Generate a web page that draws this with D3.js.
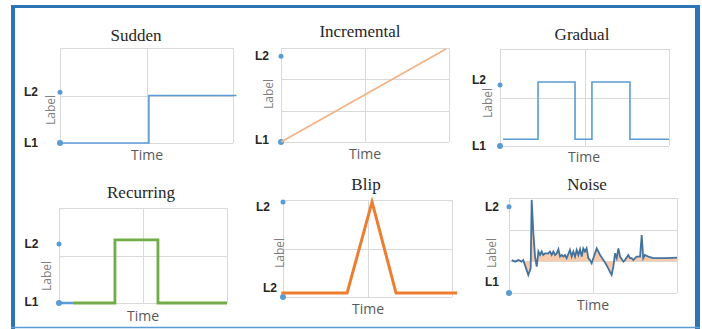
<!DOCTYPE html>
<html><head><meta charset="utf-8">
<script src="https://cdn.jsdelivr.net/npm/d3@7"></script>
<style>
html,body{margin:0;padding:0;background:#fff;}
svg{display:block;}
.title{font-family:"Liberation Serif","Times New Roman",serif;font-size:17px;fill:#262626;}
.time{font-family:"Open Sans",sans-serif;font-size:14px;fill:#595959;}
.ylab{font-family:"Open Sans",sans-serif;font-size:12px;fill:#7f7f7f;}
.lvl{font-family:"Liberation Sans Narrow","Liberation Sans",Arial,sans-serif;font-weight:bold;font-size:12px;fill:#262626;}
</style>
</head><body>
<script>
// ---------- DATA ----------
const titles = ["Sudden", "Incremental", "Gradual", "Recurring", "Blip", "Noise"];
const axisTitleX = "Time";
const axisTitleY = "Label";
const levelNames = [["L1", "L2"], ["L1", "L2"], ["L1", "L2"], ["L1", "L2"], ["L2", "L2"], ["L1", "L2"]];
// level marker values (low, high) per panel
const levelMarks = [[0, 1.07], [0, 2.74], [0, 1.26], [0, 1.24], [0, 1.96], [0, 2.72]];

const suddenT = [0, 51.4, 51.4, 102];
const suddenV = [0, 0, 1, 1];

const incrementalT = [0, 98.2];
const incrementalV = [0, 2.97];

const gradualT = [1.8, 22.5, 22.5, 44.4, 44.4, 54.4, 54.4, 76.9, 76.9, 100];
const gradualV = [0.14, 0.14, 1.32, 1.32, 0.14, 0.14, 1.32, 1.32, 0.14, 0.14];

const recurringStubT = [0, 8.3];
const recurringStubV = [0, 0];
const recurringT = [8.3, 33.3, 33.3, 58.9, 58.9, 100];
const recurringV = [0, 0, 1.33, 1.33, 0, 0];

const blipT = [-1, 37.9, 52.7, 66.9, 103];
const blipV = [0.08, 0.08, 1.96, 0.08, 0.08];

const noiseT = [1.6, 3.6, 5.6, 7.5, 8.5, 9.5, 11.5, 12.9, 13.5, 14.5, 15.5, 16.5, 17.5, 18.5, 19.5, 20.4,
  21.4, 23.4, 24.4, 25.4, 26.4, 27.4, 28.4, 29.4, 30.4, 31.4, 32.3, 33.3, 34.3, 36.3, 37.3, 38.3, 39.3,
  40.3, 41.3, 42.3, 43.3, 44.2, 45.2, 46.2, 47.2, 48.2, 49.2, 50.2, 52.2, 54.2, 56.2, 58.1, 60.1, 61.1,
  62.1, 63.1, 64.1, 65.1, 66.1, 68.1, 69.0, 71.0, 72.0, 73.0, 74.0, 75.0, 76.0, 78.0, 79.0, 79.9, 80.9,
  82.9, 85.9, 93.8, 100];
const noiseV = [1.04, 0.99, 1.04, 0.99, 1.04, 0.88, 0.57, 0.78, 2.94, 1.89, 1.15, 0.83, 1.31, 1.20, 1.31, 1.20,
  1.25, 1.25, 1.31, 1.20, 1.31, 1.20, 1.25, 1.38, 1.15, 1.20, 1.15, 1.20, 1.10, 1.36, 1.15, 1.31, 1.15,
  1.36, 1.20, 1.38, 1.15, 1.41, 1.31, 1.41, 1.10, 1.04, 0.94, 1.10, 1.41, 1.20, 1.04, 0.88, 0.67, 0.57,
  0.83, 1.25, 1.10, 1.41, 1.15, 0.99, 1.04, 1.20, 1.10, 1.10, 1.04, 1.10, 1.15, 1.15, 1.83, 1.10, 1.20,
  1.15, 1.10, 1.10, 1.12];
const noiseBaseline = 1.0;

// ---------- LAYOUT ----------
const W = 702, H = 329;
const svg = d3.select("body").append("svg").attr("width", W).attr("height", H);

const panels = [
  {box: [60, 233, 48, 143], yMax: 2, rows: 2, title: [136, 41], time: [147, 160], ylab: [50.5, 110], lvlX: 38, lvlDy: [0, 0]},
  {box: [281, 449, 48, 142], yMax: 3, rows: 3, title: [360, 37], time: [365, 159], ylab: [269, 94], lvlX: 269, lvlDy: [-2, 0]},
  {box: [500, 669, 49, 146], yMax: 2, rows: 2, title: [582, 40], time: [584, 162], ylab: [488, 103], lvlX: 486, lvlDy: [0, -5]},
  {box: [59, 227, 208, 303], yMax: 2, rows: 2, title: [141, 198], time: [143, 321], ylab: [47, 276], lvlX: 38.5, lvlDy: [-1, 0]},
  {box: [283, 452, 200, 297], yMax: 2, rows: 2, title: [366, 190], time: [368, 314], ylab: [280, 253], lvlX: [277, 270], lvlDy: [-9, 5]},
  {box: [509, 677, 198, 293], yMax: 3, rows: 3, title: [587, 190], time: [593, 310], ylab: [492, 253], lvlX: 499, lvlDy: [-11, 0]}
];

const blue = "#5B9BD5";

function setupPanel(i) {
  const p = panels[i];
  const [x0, x1, y0, y1] = p.box;
  const x = d3.scaleLinear().domain([0, 100]).range([x0, x1]);
  const y = d3.scaleLinear().domain([0, p.yMax]).range([y1, y0]);
  const g = svg.append("g");
  // grid via axes
  const gx = g.append("g").attr("transform", `translate(0,${y1})`)
    .call(d3.axisBottom(x).tickValues([0, 50, 100]).tickSize(-(y1 - y0)).tickFormat(""));
  const gy = g.append("g").attr("transform", `translate(${x0},0)`)
    .call(d3.axisLeft(y).tickValues(d3.range(p.rows + 1).map(k => k * p.yMax / p.rows)).tickSize(-(x1 - x0)).tickFormat(""));
  [gx, gy].forEach(a => {
    a.select(".domain").remove();
    a.selectAll("line").attr("stroke", "#d9d9d9").attr("stroke-width", 1).attr("shape-rendering", "crispEdges");
  });
  // texts
  g.append("text").attr("class", "title").attr("x", p.title[0]).attr("y", p.title[1]).attr("text-anchor", "middle").text(titles[i]);
  g.append("text").attr("class", "time").attr("x", p.time[0]).attr("y", p.time[1]).attr("text-anchor", "middle").text(axisTitleX);
  g.append("text").attr("class", "ylab").attr("transform", `translate(${p.ylab[0]},${p.ylab[1]}) rotate(-90)`)
    .attr("text-anchor", "middle").attr("dy", "0.35em").text(axisTitleY);
  // level markers + labels
  levelMarks[i].forEach((v, k) => {
    g.append("circle").attr("cx", x0).attr("cy", y(v)).attr("r", k === 0 ? 3 : 2.5).attr("fill", blue);
    const lx = Array.isArray(p.lvlX) ? p.lvlX[k] : p.lvlX;
    g.append("text").attr("class", "lvl").attr("x", lx).attr("y", y(v) + p.lvlDy[k]).attr("dy", "0.35em")
      .attr("text-anchor", "end").text(levelNames[i][k]);
  });
  return {g, x, y};
}

function drawLine(ctx, T, V, color, width) {
  const pts = T.map((t, k) => [t, V[k]]);
  ctx.g.append("path").datum(pts)
    .attr("d", d3.line().x(d => ctx.x(d[0])).y(d => ctx.y(d[1])))
    .attr("fill", "none").attr("stroke", color).attr("stroke-width", width)
    .attr("stroke-linejoin", "miter");
}

// Sudden
let c = setupPanel(0);
drawLine(c, suddenT, suddenV, blue, 1.6);
// Incremental
c = setupPanel(1);
drawLine(c, incrementalT, incrementalV, "#F4B183", 1.6);
// Gradual
c = setupPanel(2);
drawLine(c, gradualT, gradualV, blue, 1.6);
// Recurring
c = setupPanel(3);
drawLine(c, recurringStubT, recurringStubV, blue, 2.5);
drawLine(c, recurringT, recurringV, "#70AD47", 2.8);
// Blip
c = setupPanel(4);
drawLine(c, blipT, blipV, "#ED7D31", 3);
// Noise
c = setupPanel(5);
{
  const pts = noiseT.map((t, k) => [t, noiseV[k]]);
  c.g.append("path").datum(pts)
    .attr("d", d3.area().x(d => c.x(d[0])).y0(c.y(noiseBaseline)).y1(d => c.y(d[1])))
    .attr("fill", "#F8CBAD").attr("stroke", "none");
  drawLine(c, noiseT, noiseV, "#44729E", 1.8);
}

// outer frame
const frame = svg.append("g").attr("stroke", "#2E75B6").attr("fill", "none");
frame.append("line").attr("x1", 11).attr("x2", 700).attr("y1", 6.5).attr("y2", 6.5).attr("stroke-width", 3);
frame.append("line").attr("x1", 13).attr("x2", 13).attr("y1", 5).attr("y2", 329).attr("stroke-width", 4);
frame.append("line").attr("x1", 697.5).attr("x2", 697.5).attr("y1", 5).attr("y2", 329).attr("stroke-width", 5);
frame.append("line").attr("x1", 11).attr("x2", 700).attr("y1", 327.5).attr("y2", 327.5).attr("stroke-width", 1.5).attr("stroke", "#5B9BD5");
</script>
</body></html>
